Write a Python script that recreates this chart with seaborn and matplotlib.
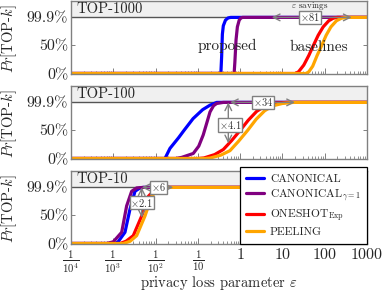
import pandas as pd
import numpy as np
import matplotlib
matplotlib.use('Agg')
import matplotlib.pyplot as plt
import seaborn as sns

# method names as they appear in the legend
methods = ['CANONICAL', r'CANONICAL$_{\gamma=1}$', r'ONESHOT$_{\mathrm{Exp}}$', 'PEELING']
colors = ['#0000ff', '#800080', '#ff0000', '#ffa500']
panels = ['TOP-1000', 'TOP-100', 'TOP-10']

# TOP-1000
t1000_canon_eps = [1e-4, 0.35, 0.365, 0.38, 0.40, 0.45, 0.52, 0.6, 1e3]
t1000_canon_p = [0, 0, 0.3, 0.7, 0.85, 0.95, 0.99, 0.999, 0.999]
t1000_gamma_eps = [1e-4, 0.72, 0.75, 0.80, 0.86, 0.95, 1.05, 1.15, 1e3]
t1000_gamma_p = [0, 0, 0.2, 0.6, 0.83, 0.95, 0.99, 0.999, 0.999]
t1000_oneshot_eps = [1e-4, 20, 24, 32, 42, 54, 70, 92, 125, 160, 200, 1e3]
t1000_oneshot_p = [0, 0, 0.03, 0.15, 0.32, 0.5, 0.68, 0.83, 0.94, 0.985, 0.999, 0.999]
t1000_peel_eps = [1e-4, 36, 42, 52, 66, 85, 108, 140, 190, 250, 330, 1e3]
t1000_peel_p = [0, 0, 0.03, 0.13, 0.32, 0.5, 0.68, 0.83, 0.94, 0.985, 0.999, 0.999]

# TOP-100
t100_canon_eps = [1e-4, 0.0167, 0.0219, 0.035, 0.047, 0.077, 0.13, 0.194, 0.28, 1e3]
t100_canon_p = [0, 0, 0.18, 0.37, 0.5, 0.71, 0.87, 0.95, 0.999, 0.999]
t100_gamma_eps = [1e-4, 0.03, 0.0415, 0.078, 0.105, 0.134, 0.165, 0.194, 0.235, 0.279, 0.4, 1e3]
t100_gamma_p = [0, 0, 0.02, 0.09, 0.22, 0.42, 0.65, 0.83, 0.94, 0.98, 0.999, 0.999]
t100_oneshot_eps = [1e-4, 0.1, 0.14, 0.25, 0.4, 0.63, 1.0, 1.55, 2.46, 4.0, 6.5, 12.6, 1e3]
t100_oneshot_p = [0, 0, 0.01, 0.07, 0.16, 0.32, 0.5, 0.68, 0.84, 0.94, 0.98, 0.999, 0.999]
t100_peel_eps = [1e-4, 0.15, 0.2, 0.35, 0.575, 0.9, 1.5, 2.4, 3.8, 6.0, 10, 18, 1e3]
t100_peel_p = [0, 0, 0.01, 0.06, 0.14, 0.3, 0.5, 0.7, 0.85, 0.94, 0.98, 0.999, 0.999]

# TOP-10
t10_canon_eps = [1e-4, 0.0011, 0.0013, 0.00189, 0.00248, 0.00326, 0.0042, 0.0051, 1e3]
t10_canon_p = [0, 0, 0.03, 0.2, 0.61, 0.93, 0.985, 0.999, 0.999]
t10_gamma_eps = [1e-4, 0.0007, 0.001, 0.00158, 0.00207, 0.00272, 0.00357, 0.0051, 1e3]
t10_gamma_p = [0, 0, 0.03, 0.2, 0.67, 0.93, 0.99, 0.999, 0.999]
t10_oneshot_eps = [1e-4, 0.00144, 0.002, 0.00297, 0.0047, 0.00673, 0.00968, 0.0152, 1e3]
t10_oneshot_p = [0, 0, 0.04, 0.14, 0.49, 0.84, 0.96, 0.999, 0.999]
t10_peel_eps = [1e-4, 0.00173, 0.0025, 0.00357, 0.00562, 0.0081, 0.0116, 0.0183, 1e3]
t10_peel_p = [0, 0, 0.04, 0.14, 0.49, 0.84, 0.97, 0.999, 0.999]

x_ticks = [1e-4, 1e-3, 1e-2, 1e-1, 1, 10, 100, 1000]
x_ticklabels = [r'$\frac{1}{10^4}$', r'$\frac{1}{10^3}$', r'$\frac{1}{10^2}$', r'$\frac{1}{10}$',
                '1', '10', '100', '1000']
y_ticks = [0, 0.5, 0.999]
y_ticklabels = ['0%', '50%', '99.9%']

series = {
    'TOP-1000': [(t1000_canon_eps, t1000_canon_p), (t1000_gamma_eps, t1000_gamma_p),
                 (t1000_oneshot_eps, t1000_oneshot_p), (t1000_peel_eps, t1000_peel_p)],
    'TOP-100': [(t100_canon_eps, t100_canon_p), (t100_gamma_eps, t100_gamma_p),
                (t100_oneshot_eps, t100_oneshot_p), (t100_peel_eps, t100_peel_p)],
    'TOP-10': [(t10_canon_eps, t10_canon_p), (t10_gamma_eps, t10_gamma_p),
               (t10_oneshot_eps, t10_oneshot_p), (t10_peel_eps, t10_peel_p)],
}
rows = []
for panel in panels:
    for m, (xs, ps) in zip(methods, series[panel]):
        for x, p in zip(xs, ps):
            rows.append({'panel': panel, 'method': m, 'eps': x, 'p': p})
df = pd.DataFrame(rows)

sns.set_theme(style='white')
plt.rcParams['font.family'] = ['cmr10', 'DejaVu Serif']
plt.rcParams['mathtext.fontset'] = 'cm'
plt.rcParams['axes.unicode_minus'] = False
plt.rcParams['axes.formatter.use_mathtext'] = True

fig = plt.figure(figsize=(3.86, 2.93), dpi=100)
W, H = 386, 293
zero_px = [73.5, 158.5, 243.5]
ax_h = 73
gray = '#808080'
axes = []
for panel, z in zip(panels, zero_px):
    ax = fig.add_axes([71 / W, 1 - z / H, 296 / W, ax_h / H])
    axes.append(ax)
    sub = df[df['panel'] == panel]
    ax.axhspan(0.999, 1.3, color='#f0f0f0', zorder=0, lw=0)
    ax.axhline(0.999, color='#555555', lw=1.0, zorder=1.5)
    sns.lineplot(data=sub, x='eps', y='p', hue='method', hue_order=methods, palette=colors,
                 estimator=None, sort=False, lw=2.3, ax=ax, legend=(panel == 'TOP-10'))
    ax.set_xscale('log')
    ax.set_xlim(1e-4, 1e3)
    ax.set_ylim(0, 1.3)
    ax.set_xticks(x_ticks)
    ax.xaxis.set_minor_locator(matplotlib.ticker.LogLocator(base=10, subs=np.arange(2, 10), numticks=20))
    ax.set_yticks(y_ticks)
    ax.set_yticklabels(y_ticklabels, fontsize=11.5)
    ax.tick_params(axis='both', which='both', direction='in', color=gray, right=True, top=False,
                   bottom=True, left=True)
    ax.tick_params(axis='x', which='major', length=4, width=0.7)
    ax.tick_params(axis='x', which='minor', length=2.5, width=0.6)
    ax.tick_params(axis='y', length=3, width=0.7, pad=2)
    for s in ax.spines.values():
        s.set_color(gray)
        s.set_linewidth(1.0)
    ax.set_ylabel(r'$Pr$[TOP-$k$]', fontsize=10.5)
    ax.yaxis.set_label_coords(-0.176, 0.47)
    ax.set_xlabel('')
    ax.text(0.02, 0.885, panel, transform=ax.transAxes, fontsize=10.5, va='center', ha='left')
    if panel != 'TOP-10':
        ax.set_xticklabels([])

box = dict(boxstyle='square,pad=0.08', fc='white', ec=gray, lw=1.0)
arrow = dict(arrowstyle='<->', color=gray, lw=1.0, shrinkA=0, shrinkB=0)
fs_box = 7.5

ax = axes[0]
ax.annotate('', xy=(434, 0.999), xytext=(5.6, 0.999), arrowprops=arrow, annotation_clip=False)
ax.text(44.8, 0.999, r'$\times$81', ha='center', va='center', fontsize=fs_box, color='#333', bbox=box)
ax.text(44.8, 1.2, r'$\varepsilon$ savings', ha='center', va='center', fontsize=6.5)
ax.text(0.49, 0.49, 'proposed', ha='center', va='center', fontsize=11)
ax.text(73, 0.47, 'baselines', ha='center', va='center', fontsize=11)

ax = axes[1]
ax.annotate('', xy=(19.8, 0.999), xytext=(0.575, 0.999), arrowprops=arrow)
ax.annotate('', xy=(0.525, 0.27), xytext=(0.525, 0.999), arrowprops=arrow)
ax.text(3.52, 0.999, r'$\times$34', ha='center', va='center', fontsize=fs_box, color='#333', bbox=box)
ax.text(0.575, 0.6, r'$\times$4.1', ha='center', va='center', fontsize=fs_box, color='#333', bbox=box)

ax = axes[2]
ax.annotate('', xy=(0.0262, 0.999), xytext=(0.0047, 0.999), arrowprops=arrow)
ax.annotate('', xy=(0.0047, 0.46), xytext=(0.0047, 0.999), arrowprops=arrow)
ax.text(0.0116, 0.999, r'$\times$6', ha='center', va='center', fontsize=fs_box, color='#333', bbox=box)
ax.text(0.0047, 0.73, r'$\times$2.1', ha='center', va='center', fontsize=fs_box, color='#333', bbox=box)
ax.set_xticklabels(x_ticklabels, fontsize=11.5)
for lbl in ax.get_xticklabels()[:4]:
    lbl.set_fontsize(11)
ax.tick_params(axis='x', which='major', pad=3.5)
ax.set_xlabel(r'privacy loss parameter $\varepsilon$', fontsize=10.5)
ax.xaxis.set_label_coords(0.5, -0.42)

handles, labels = ax.get_legend_handles_labels()
leg = ax.legend(handles, labels, loc='lower right', bbox_to_anchor=(1, 0), borderaxespad=0,
                fontsize=8.3, frameon=True, fancybox=False, framealpha=1, edgecolor='black',
                handlelength=1.5, labelspacing=0.3, borderpad=0.55, handletextpad=0.55)
leg.get_frame().set_linewidth(0.9)
for line in leg.get_lines():
    line.set_linewidth(2.3)

fig.savefig('out.png', dpi=100)
